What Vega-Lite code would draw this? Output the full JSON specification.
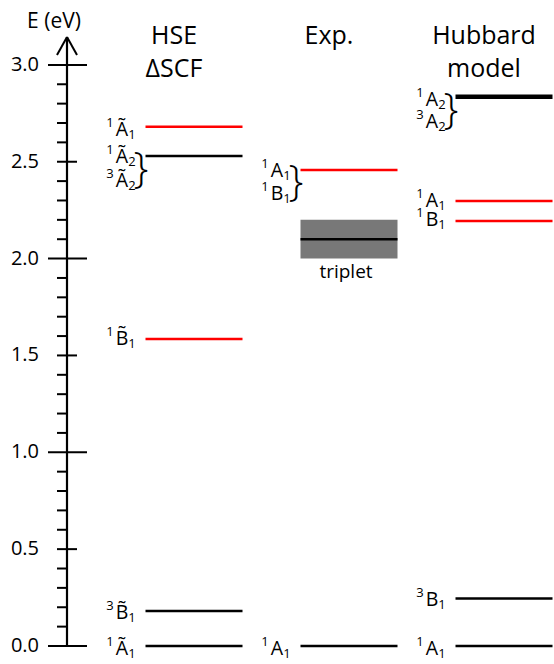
{
  "$schema": "https://vega.github.io/schema/vega-lite/v6.json",
  "width": 487,
  "height": 664,
  "autosize": "none",
  "padding": {"left": 67, "top": 0, "right": 0, "bottom": 0},
  "background": "white",
  "config": {"view": {"stroke": null}, "font": "Open Sans", "axis": {"grid": false}},
  "datasets": {
    "ticks": [
      {"E": 0.0, "rank": "major"}, {"E": 0.1, "rank": "minor"}, {"E": 0.2, "rank": "minor"}, {"E": 0.3, "rank": "minor"}, {"E": 0.4, "rank": "minor"},
      {"E": 0.5, "rank": "half"}, {"E": 0.6, "rank": "minor"}, {"E": 0.7, "rank": "minor"}, {"E": 0.8, "rank": "minor"}, {"E": 0.9, "rank": "minor"},
      {"E": 1.0, "rank": "major"}, {"E": 1.1, "rank": "minor"}, {"E": 1.2, "rank": "minor"}, {"E": 1.3, "rank": "minor"}, {"E": 1.4, "rank": "minor"},
      {"E": 1.5, "rank": "half"}, {"E": 1.6, "rank": "minor"}, {"E": 1.7, "rank": "minor"}, {"E": 1.8, "rank": "minor"}, {"E": 1.9, "rank": "minor"},
      {"E": 2.0, "rank": "major"}, {"E": 2.1, "rank": "minor"}, {"E": 2.2, "rank": "minor"}, {"E": 2.3, "rank": "minor"}, {"E": 2.4, "rank": "minor"},
      {"E": 2.5, "rank": "half"}, {"E": 2.6, "rank": "minor"}, {"E": 2.7, "rank": "minor"}, {"E": 2.8, "rank": "minor"}, {"E": 2.9, "rank": "minor"},
      {"E": 3.0, "rank": "major"}
    ],
    "levels": [
      {"method": "HSE", "E": 0.0, "kind": "dark"},
      {"method": "HSE", "E": 0.18, "kind": "dark"},
      {"method": "HSE", "E": 1.585, "kind": "bright"},
      {"method": "HSE", "E": 2.53, "kind": "dark"},
      {"method": "HSE", "E": 2.68, "kind": "bright"},
      {"method": "Exp", "E": 0.0, "kind": "dark"},
      {"method": "Exp", "E": 2.1, "kind": "dark"},
      {"method": "Exp", "E": 2.457, "kind": "bright"},
      {"method": "Hubbard", "E": 0.0, "kind": "dark"},
      {"method": "Hubbard", "E": 0.245, "kind": "dark"},
      {"method": "Hubbard", "E": 2.194, "kind": "bright"},
      {"method": "Hubbard", "E": 2.297, "kind": "bright"},
      {"method": "Hubbard", "E": 2.836, "kind": "pair"}
    ],
    "labels": [
      {"method": "HSE", "E": -0.015, "spin": "1", "sym": "Ã", "irrep": "1"},
      {"method": "HSE", "E": 0.17, "spin": "3", "sym": "B̃", "irrep": "1"},
      {"method": "HSE", "E": 1.585, "spin": "1", "sym": "B̃", "irrep": "1"},
      {"method": "HSE", "E": 2.40, "spin": "3", "sym": "Ã", "irrep": "2"},
      {"method": "HSE", "E": 2.522, "spin": "1", "sym": "Ã", "irrep": "2"},
      {"method": "HSE", "E": 2.664, "spin": "1", "sym": "Ã", "irrep": "1"},
      {"method": "Exp", "E": -0.015, "spin": "1", "sym": "A", "irrep": "1"},
      {"method": "Exp", "E": 2.336, "spin": "1", "sym": "B", "irrep": "1"},
      {"method": "Exp", "E": 2.45, "spin": "1", "sym": "A", "irrep": "1"},
      {"method": "Hubbard", "E": -0.015, "spin": "1", "sym": "A", "irrep": "1"},
      {"method": "Hubbard", "E": 0.235, "spin": "3", "sym": "B", "irrep": "1"},
      {"method": "Hubbard", "E": 2.197, "spin": "1", "sym": "B", "irrep": "1"},
      {"method": "Hubbard", "E": 2.295, "spin": "1", "sym": "A", "irrep": "1"},
      {"method": "Hubbard", "E": 2.703, "spin": "3", "sym": "A", "irrep": "2"},
      {"method": "Hubbard", "E": 2.821, "spin": "1", "sym": "A", "irrep": "2"}
    ],
    "braces": [
      {"method": "HSE", "E": 2.46},
      {"method": "Exp", "E": 2.393},
      {"method": "Hubbard", "E": 2.767}
    ],
    "triplet": [
      {"method": "Exp", "lo": 2.0, "hi": 2.2, "label": "triplet"}
    ],
    "columns": [
      {"method": "HSE", "title": "HSE\nΔSCF"},
      {"method": "Exp", "title": "Exp."},
      {"method": "Hubbard", "title": "Hubbard\nmodel"}
    ]
  },
  "layer": [
    {
      "layer": [
        {
          "data": {"values": [{"name": "E axis"}]},
          "mark": {"type": "rule", "strokeWidth": 2.2, "color": "black"},
          "encoding": {
            "x": {"datum": 0, "type": "quantitative", "scale": {"domain": [0, 487], "nice": false, "zero": false}, "axis": null},
            "y": {"datum": 0, "type": "quantitative", "scale": {"domain": [-0.093, 3.335], "nice": false, "zero": false}, "axis": null},
            "y2": {"datum": 3.144}
          }
        },
        {
          "data": {"values": [{"name": "arrow left"}]},
          "mark": {"type": "rule", "strokeWidth": 2, "color": "black"},
          "encoding": {
            "x": {"datum": -10, "type": "quantitative", "scale": {"domain": [0, 487], "nice": false, "zero": false}, "axis": null},
            "x2": {"datum": 0},
            "y": {"datum": 3.051, "type": "quantitative", "scale": {"domain": [-0.093, 3.335], "nice": false, "zero": false}, "axis": null},
            "y2": {"datum": 3.144}
          }
        },
        {
          "data": {"values": [{"name": "arrow right"}]},
          "mark": {"type": "rule", "strokeWidth": 2, "color": "black"},
          "encoding": {
            "x": {"datum": 10, "type": "quantitative", "scale": {"domain": [0, 487], "nice": false, "zero": false}, "axis": null},
            "x2": {"datum": 0},
            "y": {"datum": 3.051, "type": "quantitative", "scale": {"domain": [-0.093, 3.335], "nice": false, "zero": false}, "axis": null},
            "y2": {"datum": 3.144}
          }
        },
        {
          "data": {"name": "ticks"},
          "transform": [{"filter": "datum.rank === 'major'"}],
          "mark": {"type": "rule", "strokeWidth": 2, "color": "black"},
          "encoding": {
            "x": {"datum": -19, "type": "quantitative", "scale": {"domain": [0, 487], "nice": false, "zero": false}, "axis": null},
            "x2": {"datum": 20},
            "y": {"field": "E", "type": "quantitative", "scale": {"domain": [-0.093, 3.335], "nice": false, "zero": false}, "axis": null}
          }
        },
        {
          "data": {"name": "ticks"},
          "transform": [{"filter": "datum.rank === 'half'"}],
          "mark": {"type": "rule", "strokeWidth": 2, "color": "black"},
          "encoding": {
            "x": {"datum": -10, "type": "quantitative", "scale": {"domain": [0, 487], "nice": false, "zero": false}, "axis": null},
            "x2": {"datum": 10},
            "y": {"field": "E", "type": "quantitative", "scale": {"domain": [-0.093, 3.335], "nice": false, "zero": false}, "axis": null}
          }
        },
        {
          "data": {"name": "ticks"},
          "transform": [{"filter": "datum.rank === 'minor'"}],
          "mark": {"type": "rule", "strokeWidth": 2, "color": "black"},
          "encoding": {
            "x": {"datum": -10, "type": "quantitative", "scale": {"domain": [0, 487], "nice": false, "zero": false}, "axis": null},
            "x2": {"datum": 0},
            "y": {"field": "E", "type": "quantitative", "scale": {"domain": [-0.093, 3.335], "nice": false, "zero": false}, "axis": null}
          }
        },
        {
          "data": {"name": "ticks"},
          "transform": [{"filter": "datum.rank !== 'minor'"}],
          "mark": {"type": "text", "align": "right", "baseline": "middle", "fontSize": 20, "font": "Open Sans", "color": "black"},
          "encoding": {
            "x": {"datum": -28, "type": "quantitative", "scale": {"domain": [0, 487], "nice": false, "zero": false}, "axis": null},
            "y": {"field": "E", "type": "quantitative", "scale": {"domain": [-0.093, 3.335], "nice": false, "zero": false}, "axis": null},
            "text": {"field": "E", "type": "quantitative", "format": ".1f"}
          }
        },
        {
          "data": {"values": [{"title": "E (eV)"}]},
          "mark": {"type": "text", "align": "center", "baseline": "middle", "fontSize": 21, "font": "Open Sans", "color": "black"},
          "encoding": {
            "x": {"datum": -13, "type": "quantitative", "scale": {"domain": [0, 487], "nice": false, "zero": false}, "axis": null},
            "y": {"datum": 3.221, "type": "quantitative", "scale": {"domain": [-0.093, 3.335], "nice": false, "zero": false}, "axis": null},
            "text": {"field": "title", "type": "nominal"}
          }
        }
      ]
    },
    {
      "layer": [
        {
          "data": {"name": "triplet"},
          "mark": {"type": "bar", "width": 97, "color": "#787878", "opacity": 1},
          "encoding": {
            "x": {"field": "method", "type": "nominal", "scale": {"type": "point", "padding": 0, "domain": ["HSE", "Exp", "Hubbard"], "range": [127, 437]}, "axis": null},
            "y": {"field": "lo", "type": "quantitative", "scale": {"domain": [-0.093, 3.335], "nice": false, "zero": false}, "axis": null},
            "y2": {"field": "hi"}
          }
        },
        {
          "data": {"name": "levels"},
          "transform": [{"filter": "datum.kind !== 'pair'"}],
          "mark": {"type": "tick", "size": 97, "thickness": 2.5, "opacity": 1},
          "encoding": {
            "x": {"field": "method", "type": "nominal", "scale": {"type": "point", "padding": 0, "domain": ["HSE", "Exp", "Hubbard"], "range": [127, 437]}, "axis": null},
            "y": {"field": "E", "type": "quantitative", "scale": {"domain": [-0.093, 3.335], "nice": false, "zero": false}, "axis": null},
            "color": {"field": "kind", "type": "nominal", "scale": {"domain": ["bright", "dark"], "range": ["#ff0000", "#000000"]}, "legend": null}
          }
        },
        {
          "data": {"name": "levels"},
          "transform": [{"filter": "datum.kind === 'pair'"}],
          "mark": {"type": "tick", "size": 97, "thickness": 4.5, "color": "#000000", "opacity": 1},
          "encoding": {
            "x": {"field": "method", "type": "nominal", "scale": {"type": "point", "padding": 0, "domain": ["HSE", "Exp", "Hubbard"], "range": [127, 437]}, "axis": null},
            "y": {"field": "E", "type": "quantitative", "scale": {"domain": [-0.093, 3.335], "nice": false, "zero": false}, "axis": null}
          }
        },
        {
          "data": {"name": "triplet"},
          "mark": {"type": "text", "dx": -3, "dy": 13, "fontSize": 19, "font": "Open Sans", "color": "black", "baseline": "middle"},
          "encoding": {
            "x": {"field": "method", "type": "nominal", "scale": {"type": "point", "padding": 0, "domain": ["HSE", "Exp", "Hubbard"], "range": [127, 437]}, "axis": null},
            "y": {"field": "lo", "type": "quantitative", "scale": {"domain": [-0.093, 3.335], "nice": false, "zero": false}, "axis": null},
            "text": {"field": "label", "type": "nominal"}
          }
        },
        {
          "data": {"name": "labels"},
          "mark": {"type": "text", "dx": -72, "fontSize": 19.5, "font": "Open Sans", "color": "black", "baseline": "middle"},
          "encoding": {
            "x": {"field": "method", "type": "nominal", "scale": {"type": "point", "padding": 0, "domain": ["HSE", "Exp", "Hubbard"], "range": [127, 437]}, "axis": null},
            "y": {"field": "E", "type": "quantitative", "scale": {"domain": [-0.093, 3.335], "nice": false, "zero": false}, "axis": null},
            "text": {"field": "sym", "type": "nominal"}
          }
        },
        {
          "data": {"name": "labels"},
          "mark": {"type": "text", "dx": -84, "dy": -7, "fontSize": 13, "font": "Open Sans", "color": "black", "baseline": "middle"},
          "encoding": {
            "x": {"field": "method", "type": "nominal", "scale": {"type": "point", "padding": 0, "domain": ["HSE", "Exp", "Hubbard"], "range": [127, 437]}, "axis": null},
            "y": {"field": "E", "type": "quantitative", "scale": {"domain": [-0.093, 3.335], "nice": false, "zero": false}, "axis": null},
            "text": {"field": "spin", "type": "nominal"}
          }
        },
        {
          "data": {"name": "labels"},
          "mark": {"type": "text", "dx": -62, "dy": 5, "fontSize": 13, "font": "Open Sans", "color": "black", "baseline": "middle"},
          "encoding": {
            "x": {"field": "method", "type": "nominal", "scale": {"type": "point", "padding": 0, "domain": ["HSE", "Exp", "Hubbard"], "range": [127, 437]}, "axis": null},
            "y": {"field": "E", "type": "quantitative", "scale": {"domain": [-0.093, 3.335], "nice": false, "zero": false}, "axis": null},
            "text": {"field": "irrep", "type": "nominal"}
          }
        },
        {
          "data": {"name": "braces"},
          "mark": {"type": "text", "text": "}", "dx": -53, "fontSize": 42, "fontWeight": 300, "font": "Open Sans", "color": "black", "baseline": "middle"},
          "encoding": {
            "x": {"field": "method", "type": "nominal", "scale": {"type": "point", "padding": 0, "domain": ["HSE", "Exp", "Hubbard"], "range": [127, 437]}, "axis": null},
            "y": {"field": "E", "type": "quantitative", "scale": {"domain": [-0.093, 3.335], "nice": false, "zero": false}, "axis": null}
          }
        },
        {
          "data": {"name": "columns"},
          "mark": {"type": "text", "dx": -20, "fontSize": 25, "font": "Open Sans", "color": "black", "baseline": "middle", "lineBreak": "\n", "lineHeight": 33},
          "encoding": {
            "x": {"field": "method", "type": "nominal", "scale": {"type": "point", "padding": 0, "domain": ["HSE", "Exp", "Hubbard"], "range": [127, 437]}, "axis": null},
            "y": {"datum": 3.15, "type": "quantitative", "scale": {"domain": [-0.093, 3.335], "nice": false, "zero": false}, "axis": null},
            "text": {"field": "title", "type": "nominal"}
          }
        }
      ]
    }
  ],
  "resolve": {"scale": {"x": "independent"}}
}
